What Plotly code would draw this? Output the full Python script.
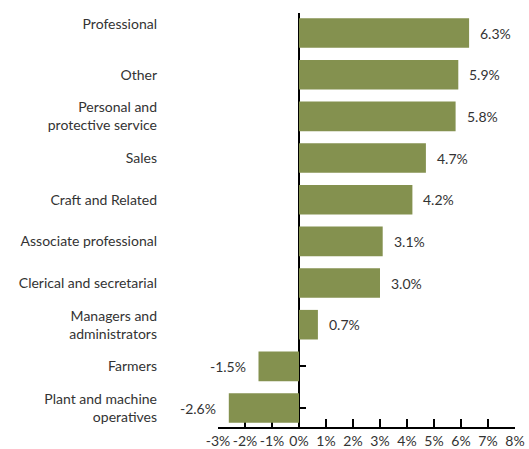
import plotly.graph_objects as go

categories = ["Plant and machine<br>operatives", "Farmers", "Managers and<br>administrators",
              "Clerical and secretarial", "Associate professional", "Craft and Related",
              "Sales", "Personal and<br>protective service", "Other", "Professional"]
# the reference draws the top label a little above its bar
category_labels = categories[:-1] + ["Professional<br> "]
values = [-2.6, -1.5, 0.7, 3.0, 3.1, 4.2, 4.7, 5.8, 5.9, 6.3]
tick_vals = [-3, -2, -1, 0, 1, 2, 3, 4, 5, 6, 7, 8]
tick_text = [f"{t}%" for t in tick_vals]

bar_color = "#84914f"
text_color = "#333333"
font_family = "Lato, Open Sans, sans-serif"
x_range = [-3, 8]
y_range = [-0.455, 9.48]

fig = go.Figure()
fig.add_bar(x=values, y=categories, orientation="h", marker_color=bar_color,
            marker_line_width=0, hoverinfo="skip")
# invisible trace to carry the zero axis
fig.add_scatter(x=[0], y=[0], yaxis="y2", mode="markers", marker_opacity=0,
                showlegend=False, hoverinfo="skip")

for c, v in zip(categories, values):
    fig.add_annotation(x=v, y=c, text=f"{v:.1f}%", showarrow=False,
                       xanchor="left" if v >= 0 else "right",
                       xshift=9 if v >= 0 else -11,
                       font=dict(size=14, color=text_color, family=font_family))

fig.update_layout(
    width=529, height=449,
    margin=dict(l=218, r=14, t=13, b=22),
    plot_bgcolor="white", paper_bgcolor="white",
    showlegend=False, bargap=0.29,
    font=dict(family=font_family, size=14, color=text_color),
    xaxis=dict(range=x_range, tickvals=tick_vals, ticktext=tick_text,
               showgrid=False, zeroline=False, showline=True, linecolor="black",
               linewidth=1.5, ticks="inside", ticklen=8, tickwidth=1.5,
               tickcolor="black", layer="below traces", automargin=False,
               fixedrange=True),
    yaxis=dict(range=y_range, showgrid=False, zeroline=False, showline=False,
               tickvals=categories, ticktext=category_labels,
               ticks="", ticklabelstandoff=60, automargin=False, fixedrange=True),
    yaxis2=dict(overlaying="y", anchor="free", position=(0 - x_range[0]) / (x_range[1] - x_range[0]),
                range=y_range, tickvals=list(range(len(categories))), showticklabels=False,
                showgrid=False, zeroline=False, showline=True, linecolor="black",
                linewidth=1.5, ticks="inside", ticklen=6, tickwidth=1.5,
                tickcolor="black", layer="below traces", fixedrange=True),
)

fig.write_html("out.html", config={"displayModeBar": False},
               post_script="document.body.style.margin='0';")
